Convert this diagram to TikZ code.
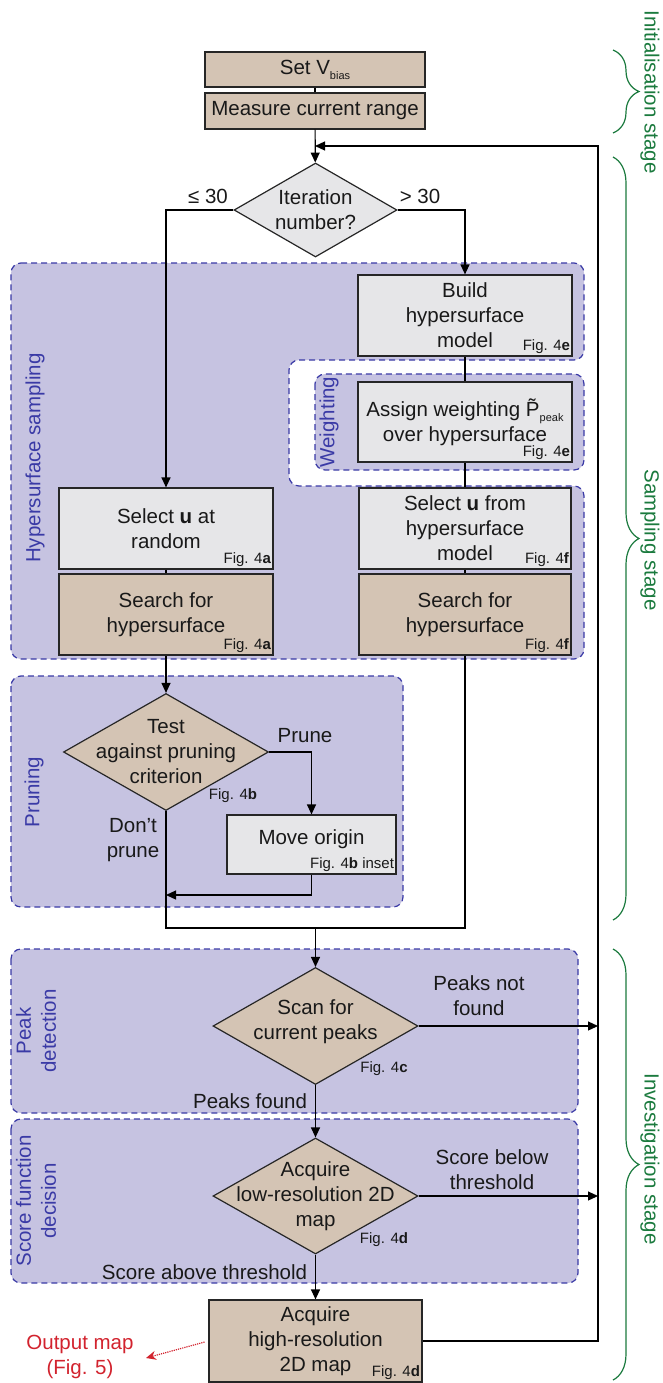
\documentclass[tikz,border=0pt]{standalone}
\usepackage{fontspec}
\setmainfont{Liberation Sans}
\usepackage{tikz}
\usetikzlibrary{shapes.geometric,arrows.meta,decorations.pathreplacing}

\definecolor{boxtan}{HTML}{D4C4B4}
\definecolor{boxgrey}{HTML}{E6E6E8}
\definecolor{regfill}{HTML}{C6C3E1}
\definecolor{regline}{HTML}{3A3AA6}
\definecolor{stagegreen}{HTML}{1B7A3E}
\definecolor{outred}{HTML}{D2232E}

\newcommand{\lowsub}[1]{\raisebox{-5pt}{\fontsize{11}{11}\selectfont #1}}

\begin{document}
\begin{tikzpicture}[x=1pt, y=-1pt, line width=1.2pt, font=\fontsize{20.5}{25}\selectfont, text=black!90,
    >={Triangle[length=10pt,width=9pt]}]
    \tikzstyle{procA} = [rectangle, draw=black!85, fill=boxtan, inner sep=0pt, align=center]
    \tikzstyle{procB} = [rectangle, draw=black!85, fill=boxgrey, inner sep=0pt, align=center]
    \tikzstyle{decision} = [diamond, draw=black!85, inner sep=0pt]
    \tikzstyle{region} = [draw=regline, dash pattern=on 6pt off 4pt, fill=regfill, rounded corners=10pt]
    \tikzstyle{figlbl} = [font=\fontsize{15}{18}\selectfont, inner sep=2pt]
    \tikzstyle{reglbl} = [text=regline, rotate=90, align=center]
    \tikzstyle{stagelbl} = [text=stagegreen, rotate=-90]
    \tikzstyle{stagebrace} = [draw=stagegreen, decorate, decoration={brace, amplitude=26pt}]

    \useasboundingbox (0,0) rectangle (662,1383);

    % Regions
    \draw[region] (11,263) -- (584,263) -- (584,360) -- (289,360) -- (289,486)
        -- (584,486) -- (584,659) -- (11,659) -- cycle;
    \draw[region] (315,374) rectangle (584,470);
    \draw[region] (11,676) rectangle (403,907);
    \draw[region] (11,949) rectangle (578,1113);
    \draw[region] (11,1119) rectangle (578,1283);

    \node[reglbl] at (35,458) {Hypersurface sampling};
    \node[reglbl] at (329,422) {Weighting};
    \node[reglbl] at (34,792) {Pruning};
    \node[reglbl] at (36,1031) {Peak\\detection};
    \node[reglbl] at (36,1201) {Score function\\decision};

    % Initialisation
    \node[procA, minimum width=220, minimum height=35] (setv) at (315,69.5) {Set V\lowsub{bias}};
    \node[procA, minimum width=220, minimum height=36] (measure) at (315,111) {Measure current range};
    \node[decision, fill=boxgrey, minimum width=163, minimum height=94] (iter) at (315.5,210) {};
    \node[align=center] at (iter) {Iteration\\number?};

    % Sampling
    \node[procB, minimum width=214, minimum height=81] (build) at (465,315.5) {Build\\hypersurface\\model};
    \node[procB, minimum width=214, minimum height=80] (assign) at (465,422)
        {Assign weighting \~{P}\lowsub{peak}\\over hypersurface};
    \node[procB, minimum width=214, minimum height=81] (select1) at (166,528.5) {Select \textbf{u} at\\random};
    \node[procA, minimum width=214, minimum height=81] (search1) at (166,614.5) {Search for\\hypersurface};
    \node[procB, minimum width=212, minimum height=81] (select2) at (465,528.5) {Select \textbf{u} from\\hypersurface\\model};
    \node[procA, minimum width=212, minimum height=81] (search2) at (465,614.5) {Search for\\hypersurface};

    \node[figlbl, anchor=south east] at (build.south east) {Fig. 4\textbf{e}};
    \node[figlbl, anchor=south east] at (assign.south east) {Fig. 4\textbf{e}};
    \node[figlbl, anchor=south east] at (select1.south east) {Fig. 4\textbf{a}};
    \node[figlbl, anchor=south east] at (search1.south east) {Fig. 4\textbf{a}};
    \node[figlbl, anchor=south east] at (select2.south east) {Fig. 4\textbf{f}};
    \node[figlbl, anchor=south east] at (search2.south east) {Fig. 4\textbf{f}};

    % Pruning
    \node[decision, fill=boxtan, minimum width=205, minimum height=117] (prune) at (166,752) {};
    \node[align=center] at (prune) {Test\\against pruning\\criterion};
    \node[figlbl] at (233,796) {Fig. 4\textbf{b}};
    \node[procB, minimum width=169, minimum height=59] (move) at (311.5,844.5) {};
    \node at (311.5,839) {Move origin};
    \node[figlbl, anchor=south east] at (move.south east) {Fig. 4\textbf{b} inset};

    % Investigation
    \node[decision, fill=boxtan, minimum width=205, minimum height=117] (peak) at (315.5,1026) {};
    \node[align=center] at (315.5,1022) {Scan for\\current peaks};
    \node[figlbl] at (384,1069) {Fig. 4\textbf{c}};
    \node[decision, fill=boxtan, minimum width=205, minimum height=116] (score) at (315.5,1196) {};
    \node[align=center] at (score) {Acquire\\low-resolution 2D\\map};
    \node[figlbl] at (384,1240) {Fig. 4\textbf{d}};
    \node[procA, minimum width=213, minimum height=82] (highres) at (315.5,1341) {Acquire\\high-resolution\\2D map};
    \node[figlbl, anchor=south east] at (highres.south east) {Fig. 4\textbf{d}};

    % Connectors
    \coordinate (looptop) at (598,146);
    \coordinate (loopend) at (315,146);
    \coordinate (backin) at (166,895);
    \coordinate (merge) at (315.5,928);
    \coordinate (peakout) at (598,1026);
    \coordinate (scoreout) at (598,1196);
    \coordinate (outmap) at (146,1358);

    \draw (setv) -- (measure);
    \draw[->] (measure) -- (iter);
    \draw[->] (highres.east) -| (looptop) -- (loopend);
    \draw[->] (iter.west) -| (select1.north);
    \draw[->] (iter.east) -| (build.north);
    \draw (build) -- (assign);
    \draw (assign) -- (select2);
    \draw (select2) -- (search2);
    \draw (select1) -- (search1);
    \draw[->] (search1) -- (prune);
    \draw[->] (prune.east) -| (move.north);
    \draw[->] (move.south) |- (backin);
    \draw (prune.south) |- (merge);
    \draw (search2.south) |- (merge);
    \draw[->] (merge) -- (peak.north);
    \draw[->] (peak.east) -- (peakout);
    \draw[->] (peak.south) -- (score.north);
    \draw[->] (score.east) -- (scoreout);
    \draw[->] (score.south) -- (highres.north);
    \draw[outred, densely dotted, -{Stealth[length=10pt,width=9pt]}, shorten <=4pt] (highres.west) -- (outmap);

    % Connector labels
    \node at (208,196) {≤ 30};
    \node at (420,196) {> 30};
    \node at (305,736) {Prune};
    \node[align=center] at (133,840) {Don’t\\prune};
    \node[align=center] at (479,996) {Peaks not\\found};
    \node[anchor=east] at (311,1101) {Peaks found};
    \node[align=center] at (492,1170) {Score below\\threshold};
    \node[anchor=east] at (311,1272) {Score above threshold};
    \node[text=outred, align=center] at (80,1357) {Output map\\(Fig. 5)};

    % Stages
    \draw[stagebrace] (613,50) -- (613,133);
    \draw[stagebrace] (613,157) -- (613,920);
    \draw[stagebrace] (613,949) -- (613,1380);
    \node[stagelbl] at (650,92) {Initialisation stage};
    \node[stagelbl] at (650,540) {Sampling stage};
    \node[stagelbl] at (650,1159) {Investigation stage};
\end{tikzpicture}
\end{document}
